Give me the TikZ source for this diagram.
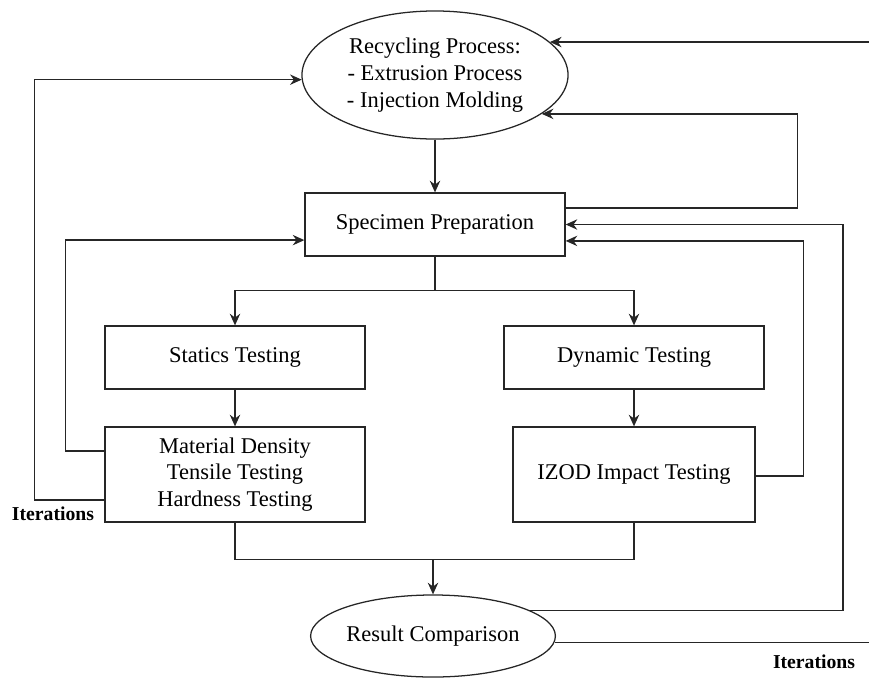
\documentclass[tikz,border=0pt]{standalone}
\usepackage{fontspec}
\setmainfont{Liberation Serif}
\usepackage{tikz}
\usetikzlibrary{arrows.meta,positioning,shapes}

\begin{document}
\begin{tikzpicture}[x=0.025cm,y=-0.025cm,
  proc/.style={draw=black!85,ellipse,inner sep=0pt,line width=0.9pt,align=center,font=\fontsize{16}{19}\selectfont},
  stage/.style={draw=black!85,line width=0.9pt,minimum width=6.5cm,minimum height=1.575cm,align=center,font=\fontsize{16}{19}\selectfont},
  arr/.style={-{Stealth[length=2.9mm,width=2.6mm]},line width=0.9pt,black!85},
  link/.style={line width=0.9pt,black!85},
  iter/.style={font=\fontsize{14}{16}\selectfont\bfseries}
]
  \useasboundingbox (0,0) rectangle (869,680);

  \node[proc,minimum width=6.65cm,minimum height=3.2cm] (rec) at (435,75)
    {Recycling Process:\\- Extrusion Process\\- Injection Molding};
  \node[stage] (spec) at (435,224.5) {Specimen Preparation};
  \node[stage] (stat) at (235,357.5) {Statics Testing};
  \node[stage] (dyn) at (634,357.5) {Dynamic Testing};
  \node[stage,minimum height=2.375cm] (mat) at (235,474.5)
    {Material Density\\Tensile Testing\\Hardness Testing};
  \node[stage,minimum width=6.05cm,minimum height=2.375cm] (izod) at (634,474.5)
    {IZOD Impact Testing};
  \node[proc,minimum width=4.75cm,minimum height=2.05cm] (res) at (433,636)
    {Result Comparison};

  \coordinate[below=0.85cm of spec] (split);
  \coordinate[below=0.925cm of mat] (matfoot);
  \coordinate (inTop) at (869,0 |- rec.16);
  \coordinate (outRes) at (869,0 |- res.-3);

  % main flow
  \draw[arr] (rec.south) -- (spec.north);
  \draw[link] (spec.south) -- (split);
  \draw[arr] (split) -| (stat.north);
  \draw[arr] (split) -| (dyn.north);
  \draw[arr] (stat) -- (mat);
  \draw[arr] (dyn) -- (izod);
  \draw[link] (mat.south) -- (matfoot) -| (izod.south);
  \draw[arr] (matfoot -| res.north) -- (res.north);

  % iterations, left side
  \draw[arr] ([yshift=0.59cm]mat.west) -- ++(-39,0) |- ([yshift=-0.39cm]spec.west);
  \draw[arr] ([yshift=-0.64cm]mat.west) -- ++(-70,0) |- (rec.182);
  \node[iter] (iterL) at (53,514) {Iterations};

  % iterations, right side
  \draw[arr] ([yshift=0.41cm]spec.east) -- ++(232,0) |- (rec.-20);
  \draw[arr] ([yshift=-0.04cm]izod.east) -- ++(48,0) |- ([yshift=-0.41cm]spec.east);
  \draw[arr] (res.15) -- (res.15 -| 843,0) |- (spec.east);
  \draw[arr] (inTop) -- (rec.16);
  \draw[link] (res.-3) -- (outRes);
  \node[iter] (iterR) at (814,662) {Iterations};
\end{tikzpicture}
\end{document}
